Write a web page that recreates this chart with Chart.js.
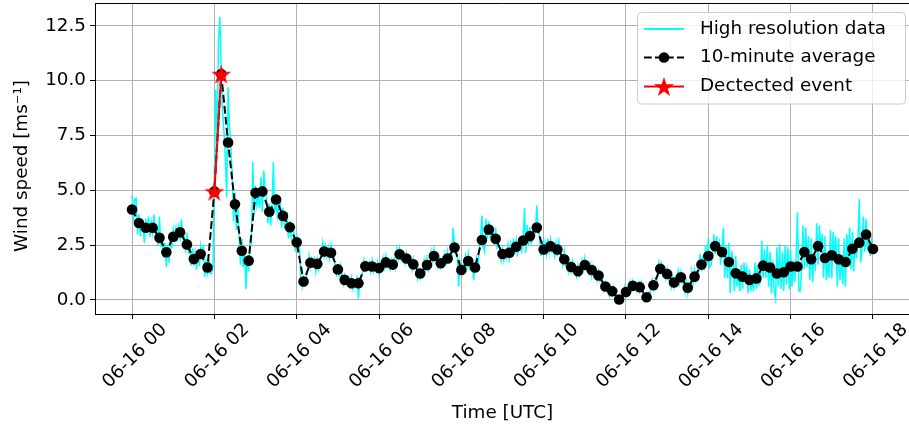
<!DOCTYPE html>
<html>
<head>
<meta charset="utf-8">
<title>Wind speed</title>
<script src="https://cdn.jsdelivr.net/npm/chart.js@4.4.1/dist/chart.umd.min.js"></script>
<style>
  html, body { margin: 0; padding: 0; background: #fff; overflow: hidden; }
  #wrap { position: relative; width: 916px; height: 431px; }
</style>
</head>
<body>
<div id="wrap"><canvas id="c" width="916" height="431"></canvas></div>
<script>
// ---- data -------------------------------------------------------------
// time axis: hours after 06-16 00 UTC
const tickHours  = [0, 2, 4, 6, 8, 10, 12, 14, 16, 18];
const tickLabels = ['06-16 00', '06-16 02', '06-16 04', '06-16 06', '06-16 08',
                    '06-16 10', '06-16 12', '06-16 14', '06-16 16', '06-16 18'];
const yTickValues = [0, 2.5, 5, 7.5, 10, 12.5];
const yTickLabels = ['0.0', '2.5', '5.0', '7.5', '10.0', '12.5'];

// 10-minute averages [m/s], 00:00 .. 18:00
const AVG_STEP_MIN = 10;
const avgSpeed = [
  4.12, 3.51, 3.29, 3.29, 2.83, 2.17,   // 00h
  2.88, 3.08, 2.53, 1.86, 2.09, 1.48,   // 01h
  4.95, 10.3, 7.18, 4.36, 2.24, 1.79,   // 02h
  4.89, 4.95, 4.02, 4.58, 3.83, 3.31,   // 03h
  2.63, 0.84, 1.69, 1.64, 2.21, 2.15,   // 04h
  1.39, 0.91, 0.76, 0.76, 1.53, 1.52,   // 05h
  1.45, 1.71, 1.61, 2.08, 1.89, 1.62,   // 06h
  1.20, 1.59, 2.00, 1.67, 1.89, 2.39,   // 07h
  1.36, 1.77, 1.48, 2.73, 3.21, 2.79,   // 08h
  2.09, 2.15, 2.42, 2.71, 2.91, 3.30,   // 09h
  2.30, 2.45, 2.30, 1.85, 1.50, 1.31,   // 10h
  1.59, 1.36, 1.11, 0.61, 0.39, 0.02,   // 11h
  0.36, 0.64, 0.58, 0.12, 0.67, 1.42,   // 12h
  1.18, 0.79, 1.03, 0.55, 1.06, 1.61,   // 13h
  2.00, 2.45, 2.18, 1.73, 1.21, 1.06,   // 14h
  0.91, 0.98, 1.56, 1.48, 1.20, 1.26,   // 15h
  1.52, 1.52, 2.18, 1.85, 2.45, 1.91,   // 16h
  2.03, 1.85, 1.73, 2.33, 2.61, 2.98,   // 17h
  2.32                                  // 18h
];

// indices of the 10-minute averages flagged as an event
const eventIndex = [12, 13];

// high resolution record [m/s], one value every 2 minutes, 00:00 .. 18:00
const HIRES_STEP_MIN = 2;
const hiresSpeed = [
  4.75, 3.6, 4.6,
  4.65, 3.0, 3.9, 2.9, 3.6,   3.5, 2.6, 3.7, 3.2, 3.8,   2.87, 3.53, 3.05, 3.89, 3.11,
  3.2, 2.5, 3.8, 2.4, 2.9,    1.9, 2.6, 1.5, 2.5, 1.7,   3.06, 2.34, 3.24, 2.82, 3.3,
  2.66, 3.32, 2.84, 3.68, 2.9, 2.89, 2.35, 3.07, 2.11, 2.65, 1.56, 2.34, 1.74, 2.16, 1.38,
  2.27, 1.55, 2.45, 2.03, 2.51, 1.06, 1.72, 1.24, 1.88, 1.2,
  1.2, 1.5, 5.6, 9.6, 7.2,    11.9, 12.9, 10.4, 8.6, 7.7, 6.5, 4.7, 9.7, 8.0, 7.0,
  5.8, 3.6, 4.9, 3.2, 4.3,    3.0, 1.6, 2.8, 1.5, 2.3,   0.5, 2.0, 1.3, 2.6, 2.55,
  6.3, 3.9, 5.2, 4.3, 4.75,   4.2, 5.6, 4.0, 5.9, 5.05,  4.6, 3.5, 4.4, 3.4, 4.2,
  6.3, 4.0, 4.5, 3.8, 4.3,    4.5, 3.3, 4.2, 3.4, 3.75,  3.9, 2.8, 3.6, 2.9, 3.35,
  3.1, 2.2, 2.9, 2.4, 2.55,   0.9, 0.6, 1.0, 0.7, 1.0,   1.3, 2.0, 1.5, 1.9, 1.75,
  1.9, 1.3, 1.8, 1.4, 1.8,    2.0, 2.6, 2.0, 2.45, 2.0,  2.4, 1.9, 2.5, 1.95, 2.0,
  1.6, 1.2, 1.5, 1.1, 1.55,   1.1, 0.7, 1.1, 0.8, 0.85,  0.9, 0.6, 1.0, 0.5, 0.8,
  0.6, 1.1, 0.05, 1.0, 1.05,  1.3, 1.8, 1.4, 1.7, 1.45,  1.7, 1.3, 1.8, 1.3, 1.5,
  1.3, 1.7, 1.2, 1.6, 1.45,   1.9, 1.5, 2.0, 1.5, 1.65,  1.4, 1.8, 1.5, 1.85, 1.5,
  2.3, 1.9, 2.35, 1.85, 2.0,  2.1, 1.7, 2.1, 1.7, 1.85,  1.8, 1.4, 1.85, 1.45, 1.6,
  1.0, 1.4, 1.0, 1.35, 1.25,  1.8, 1.4, 1.9, 1.35, 1.5,  2.2, 1.8, 2.3, 1.8, 1.9,
  1.5, 1.9, 1.5, 1.85, 1.6,   2.1, 1.7, 2.2, 1.7, 1.75,  2.0, 3.3, 2.5, 2.1, 2.05,
  0.6, 1.7, 1.3, 1.6, 1.6,    2.0, 1.5, 2.1, 1.5, 1.75,  1.7, 0.9, 1.6, 1.9, 1.3,
  2.3, 2.9, 3.85, 2.4, 2.2,   3.7, 2.8, 3.6, 2.9, 3.05,  3.2, 2.5, 3.3, 2.4, 2.55,
  2.4, 1.8, 2.3, 1.8, 2.15,   1.9, 2.5, 1.9, 2.5, 1.95,  2.8, 2.1, 2.7, 2.1, 2.4,
  2.4, 2.2, 2.6, 4.2, 2.15,   3.4, 2.5, 3.3, 2.6, 2.75,  2.9, 3.1, 4.3, 3.3, 2.9,
  2.0, 2.7, 2.1, 2.6, 2.1,    2.8, 2.2, 2.75, 2.2, 2.3,  2.0, 2.6, 2.0, 2.65, 2.25,
  2.1, 1.6, 2.2, 1.6, 1.75,   1.3, 1.7, 1.3, 1.75, 1.45, 1.5, 1.1, 1.55, 1.1, 1.3,
  1.8, 1.4, 1.9, 1.4, 1.45,   1.2, 1.6, 1.1, 1.55, 1.35, 1.3, 0.9, 1.3, 0.9, 1.15,
  0.8, 0.45, 0.75, 0.45, 0.6, 0.2, 0.55, 0.25, 0.6, 0.35, 0.1, 0.0, 0.0, 0.0, 0.0,
  0.2, 0.55, 0.2, 0.5, 0.35,  0.8, 0.45, 0.85, 0.5, 0.6, 0.4, 0.75, 0.4, 0.8, 0.55,
  0.2, 0.05, 0.2, 0.0, 0.15,  0.5, 0.9, 0.5, 0.85, 0.6,  1.2, 1.7, 1.3, 1.65, 1.25,
  1.4, 1.0, 1.4, 0.95, 1.15,  0.6, 1.0, 0.6, 1.0, 0.75,  1.3, 0.8, 1.25, 0.8, 1.0,
  0.35, 0.8, 0.3, 0.75, 0.55, 1.3, 0.8, 1.35, 0.85, 1.0, 1.3, 2.1, 1.3, 2.0, 1.35,
  2.5, 1.6, 2.8, 1.5, 1.6,    2.0, 3.0, 2.1, 2.9, 2.25,  2.6, 1.6, 2.4, 3.3, 1.0,
  2.5, 1.0, 2.6, 0.3, 2.25,   1.8, 0.4, 2.0, 0.6, 1.25,  0.4, 1.6, 0.5, 1.7, 1.1,
  1.5, 0.3, 1.4, 0.4, 0.95,   0.4, 1.7, 0.5, 1.6, 0.7,   0.8, 2.7, 1.0, 2.3, 1.0,
  2.5, 0.6, 2.2, 0.3, 1.8,    0.4, 0.05, 2.4, 0.6, 2.55, 0.5, 2.2, 0.4, 2.5, 0.7,
  2.4, 0.5, 2.3, 0.6, 1.8,    0.8, 2.0, 4.0, 0.4, 0.4,   1.3, 3.4, 1.4, 3.3, 1.5,
  2.9, 0.9, 2.8, 0.8, 1.85,   1.5, 3.5, 1.6, 3.4, 2.25,  3.0, 1.0, 2.9, 0.9, 1.75,
  1.0, 3.2, 1.0, 3.1, 1.85,   2.9, 0.6, 2.8, 0.9, 2.05,  0.7, 2.8, 0.6, 3.0, 1.55,
  3.3, 1.4, 3.1, 1.3, 2.55,   1.9, 2.6, 4.6, 1.7, 2.25,  3.8, 2.2, 3.7, 2.3, 2.9,
  2.0, 2.7, 2.26
];

// ---- styling ----------------------------------------------------------
const FONT_FAMILY = 'DejaVu Sans';
const FONT_SIZE = 18.33;
const CYAN = '#00ffff';
const RED = '#ff0000';
const GRID = '#b0b0b0';
const AVG_DASH = [7.7, 3.3];
const Y_TITLE = 'Wind speed [ms\u207B\u00B9]';
const PLOT_TOP = 3;       // top edge of the plotting area
const PLOT_BOTTOM = 314;  // bottom edge of the plotting area

Chart.defaults.font.family = FONT_FAMILY;
Chart.defaults.font.size = FONT_SIZE;
Chart.defaults.color = '#000';

// five-pointed star outline
function starPath(ctx, cx, cy, R) {
  const r = R * 0.381966;
  ctx.beginPath();
  for (let i = 0; i < 10; i++) {
    const a = -Math.PI / 2 + i * Math.PI / 5;
    const rad = i % 2 === 0 ? R : r;
    const px = cx + rad * Math.cos(a), py = cy + rad * Math.sin(a);
    if (i) ctx.lineTo(px, py); else ctx.moveTo(px, py);
  }
  ctx.closePath();
}

const STAR_R = 10.5;
const starSprite = document.createElement('canvas');
starSprite.width = starSprite.height = 26;
{
  const s = starSprite.getContext('2d');
  starPath(s, 13, 14, STAR_R);
  s.fillStyle = RED;
  s.fill();
}

// pin the vertical extent of the plotting area
const plotAreaPlugin = {
  id: 'plotArea',
  afterLayout(chart) {
    const ca = chart.chartArea;
    ca.top = PLOT_TOP;
    ca.bottom = PLOT_BOTTOM;
    ca.height = PLOT_BOTTOM - PLOT_TOP;
    const y = chart.scales.y;
    y.top = PLOT_TOP;
    y.bottom = PLOT_BOTTOM;
    y.height = PLOT_BOTTOM - PLOT_TOP;
    y.configure();
    const x = chart.scales.x;
    x.top = PLOT_BOTTOM;
    x.bottom = chart.height;
    x.height = chart.height - PLOT_BOTTOM;
  }
};

// top spine, y-axis title and in-axes legend
const framePlugin = {
  id: 'frameAndLegend',
  afterDraw(chart) {
    const { ctx, chartArea: a } = chart;
    ctx.save();
    ctx.strokeStyle = '#000';
    ctx.lineWidth = 1;
    ctx.beginPath();
    ctx.moveTo(a.left, a.top + 0.5);
    ctx.lineTo(a.right, a.top + 0.5);
    ctx.stroke();

    ctx.font = FONT_SIZE + 'px "' + FONT_FAMILY + '"';
    ctx.fillStyle = '#000';

    // y-axis title
    ctx.save();
    ctx.translate(22, 166);
    ctx.rotate(-Math.PI / 2);
    ctx.textAlign = 'center';
    ctx.textBaseline = 'middle';
    ctx.fillText(Y_TITLE, 0, 0);
    ctx.restore();

    // legend box
    const bx = 637.5, by = 12.5, bw = 268, bh = 91.5, rr = 4;
    ctx.beginPath();
    ctx.moveTo(bx + rr, by);
    ctx.arcTo(bx + bw, by, bx + bw, by + bh, rr);
    ctx.arcTo(bx + bw, by + bh, bx, by + bh, rr);
    ctx.arcTo(bx, by + bh, bx, by, rr);
    ctx.arcTo(bx, by, bx + bw, by, rr);
    ctx.closePath();
    ctx.fillStyle = 'rgba(255,255,255,0.8)';
    ctx.fill();
    ctx.strokeStyle = '#cccccc';
    ctx.lineWidth = 1;
    ctx.stroke();

    const hx0 = 644, hx1 = 684, hxm = 664;
    const rows = [29, 57.5, 86.5];
    const labels = chart.data.datasets.map(d => d.label);

    // high resolution entry
    ctx.strokeStyle = CYAN; ctx.lineWidth = 2;
    ctx.beginPath(); ctx.moveTo(hx0, rows[0]); ctx.lineTo(hx1, rows[0]); ctx.stroke();

    // average entry
    ctx.strokeStyle = '#000'; ctx.lineWidth = 2; ctx.setLineDash(AVG_DASH);
    ctx.beginPath(); ctx.moveTo(hx0, rows[1]); ctx.lineTo(hx1, rows[1]); ctx.stroke();
    ctx.setLineDash([]);
    ctx.fillStyle = '#000';
    ctx.beginPath(); ctx.arc(hxm, rows[1], 5.3, 0, Math.PI * 2); ctx.fill();

    // event entry
    ctx.strokeStyle = RED; ctx.lineWidth = 2;
    ctx.beginPath(); ctx.moveTo(hx0, rows[2]); ctx.lineTo(hx1, rows[2]); ctx.stroke();
    starPath(ctx, hxm, rows[2] + 1, STAR_R);
    ctx.fillStyle = RED; ctx.fill();

    ctx.fillStyle = '#000';
    ctx.textBaseline = 'middle';
    ctx.textAlign = 'left';
    labels.forEach((t, i) => ctx.fillText(t, 700, rows[i]));
    ctx.restore();
  }
};

const axisGrid = { color: GRID, lineWidth: 1, tickColor: '#000', tickLength: 5, tickWidth: 1 };
const axisBorder = { display: true, color: '#000', width: 1 };

new Chart(document.getElementById('c'), {
  type: 'line',
  data: {
    datasets: [
      {
        label: 'High resolution data',
        data: hiresSpeed.map((v, j) => ({ x: j * HIRES_STEP_MIN / 60, y: v })),
        borderColor: CYAN,
        borderWidth: 1.5,
        pointRadius: 0,
        tension: 0,
        order: 3
      },
      {
        label: '10-minute average',
        data: avgSpeed.map((v, k) => ({ x: k * AVG_STEP_MIN / 60, y: v })),
        borderColor: '#000',
        borderWidth: 2,
        borderDash: AVG_DASH,
        pointRadius: 5.3,
        pointBorderWidth: 0,
        pointBackgroundColor: '#000',
        tension: 0,
        order: 2
      },
      {
        label: 'Dectected event',
        data: eventIndex.map(k => ({ x: k * AVG_STEP_MIN / 60, y: avgSpeed[k] })),
        borderColor: RED,
        borderWidth: 2,
        pointStyle: starSprite,
        tension: 0,
        order: 1
      }
    ]
  },
  options: {
    responsive: false,
    animation: false,
    events: [],
    layout: { padding: { top: 0, right: 1.5, left: 0, bottom: 0 } },
    plugins: { legend: { display: false }, tooltip: { enabled: false } },
    scales: {
      x: {
        type: 'linear',
        min: -0.9,
        max: 18.9,
        afterBuildTicks: s => { s.ticks = tickHours.map(v => ({ value: v })); },
        afterFit: s => { s.height = 117; s.paddingLeft = 0; s.paddingRight = 0; },
        ticks: {
          autoSkip: false,
          minRotation: 45,
          maxRotation: 45,
          padding: 0,
          labelOffset: 32,
          callback: (v, i) => tickLabels[i]
        },
        grid: axisGrid,
        border: axisBorder,
        title: { display: true, text: 'Time [UTC]', padding: { top: 0, bottom: 7 } }
      },
      y: {
        type: 'linear',
        min: -0.645,
        max: 13.545,
        afterBuildTicks: s => { s.ticks = yTickValues.map(v => ({ value: v })); },
        afterFit: s => { s.width = 95; s.paddingTop = 0; s.paddingBottom = 0; },
        ticks: { padding: 4, callback: (v, i) => yTickLabels[i] },
        grid: axisGrid,
        border: axisBorder,
        title: { display: false }
      }
    }
  },
  plugins: [plotAreaPlugin, framePlugin]
});
</script>
</body>
</html>
